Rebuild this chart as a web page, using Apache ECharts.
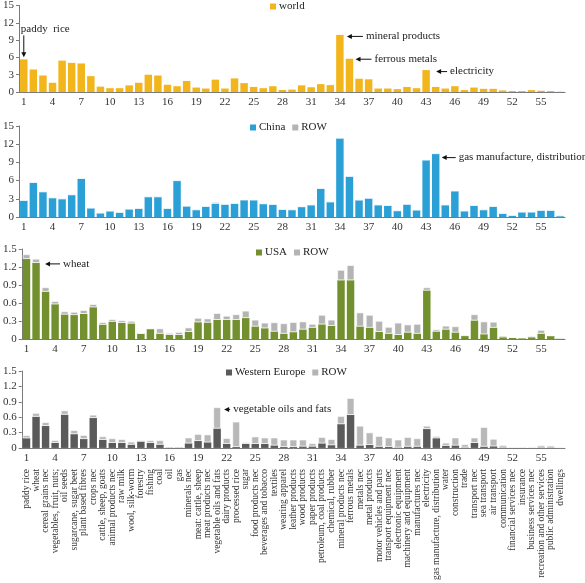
<!DOCTYPE html>
<html>
<head>
<meta charset="utf-8">
<script src="https://cdn.jsdelivr.net/npm/echarts@6/dist/echarts.min.js"></script>
<style>
	html, body { margin: 0; padding: 0; background: #fff; }
	#barCharts { width: 585px; height: 583px; }
</style>
</head>
<body>
<div id="barCharts"></div>
<script>
	// 57 sectors
	var sectorList = ['paddy rice', 'wheat', 'cereal grains nec', 'vegetables, fruit, nuts;', 'oil seeds',
		'sugarcane, sugar beet', 'plant based fibres', 'crops nec', 'cattle, sheep, goats', 'animal products nec',
		'raw milk', 'wool, silk-worm', 'forestry', 'fishing', 'coal', 'oil', 'gas', 'minerals nec',
		'meat: cattle, sheep', 'meat products nec', 'vegetable oils and fats', 'dairy products', 'processed rice',
		'sugar', 'food products nec', 'beverages and tobacco', 'textiles', 'wearing apparel', 'leather products',
		'wood products', 'paper products', 'petroleum, coal products', 'chemical, rubber', 'mineral products nec',
		'ferrous metals', 'metals nec', 'metal products', 'motor vehicles and parts', 'transport equipment nec',
		'electronic equipment', 'machinery and equipment', 'manufactures nec', 'electricity',
		'gas manufacture, distribution', 'water', 'construction', 'trade', 'transport nec', 'sea transport',
		'air transport', 'communication', 'financial services nec', 'insurance', 'business services nec',
		'recreation and other services', 'public administration', 'dwellings'];

	var worldList = [5.66, 3.9, 2.86, 1.6, 5.44, 5.05, 4.95, 2.75, 0.93, 0.66,
		0.66, 1.15, 1.6, 3.0, 2.86, 1.26, 1.0, 1.92, 0.77, 0.6,
		2.14, 0.6, 2.36, 1.54, 0.88, 0.66, 1.0, 0.35, 0.42, 1.15,
		0.82, 1.37, 1.2, 9.9, 5.77, 2.3, 2.2, 0.6, 0.6, 0.5,
		0.88, 0.66, 3.8, 0.88, 0.6, 1.0, 0.33, 0.77, 0.55, 0.55,
		0.27, 0.16, 0.16, 0.33, 0.22, 0.16, 0.05];

	var chinaList = [2.74, 5.7, 4.16, 3.17, 3.0, 3.67, 6.35, 1.48, 0.66, 0.99,
		0.77, 1.31, 1.42, 3.34, 3.34, 1.42, 6.0, 1.8, 1.2, 1.75,
		2.2, 2.08, 2.2, 2.8, 2.8, 2.19, 2.08, 1.25, 1.2, 1.7,
		2.0, 4.7, 2.5, 13.0, 6.7, 2.8, 3.1, 2.0, 1.9, 1.04,
		2.1, 1.15, 9.4, 10.45, 2.0, 4.3, 1.0, 1.9, 1.2, 1.75,
		0.6, 0.27, 0.82, 0.82, 1.1, 1.1, 0.2];
	var chinaRowList = [0, 0, 0, 0, 0, 0, 0, 0, 0, 0,
		0, 0, 0, 0, 0, 0, 0, 0, 0, 0,
		0.26, 0.05, 0.15, 0.05, 0.03, 0, 0, 0, 0, 0,
		0, 0, 0, 0, 0, 0, 0, 0, 0, 0,
		0, 0, 0, 0, 0, 0, 0, 0, 0, 0,
		0, 0, 0, 0, 0, 0, 0];

	var usaList = [1.335, 1.27, 0.79, 0.58, 0.41, 0.40, 0.42, 0.53, 0.24, 0.29,
		0.27, 0.26, 0.09, 0.165, 0.09, 0.07, 0.07, 0.12, 0.28, 0.275,
		0.32, 0.32, 0.32, 0.35, 0.21, 0.18, 0.126, 0.09, 0.115, 0.16,
		0.19, 0.245, 0.22, 0.98, 0.98, 0.21, 0.19, 0.12, 0.09, 0.07,
		0.11, 0.09, 0.81, 0.126, 0.16, 0.11, 0.05, 0.31, 0.08, 0.19,
		0.03, 0.02, 0.015, 0.03, 0.09, 0.05, 0.01];
	var usaRowList = [0.075, 0.065, 0.07, 0.05, 0.05, 0.05, 0.06, 0.05, 0.04, 0.04,
		0.04, 0.04, 0.01, 0.015, 0.085, 0.03, 0.045, 0.07, 0.07, 0.065,
		0.11, 0.065, 0.09, 0.12, 0.11, 0.09, 0.15, 0.17, 0.165, 0.13,
		0.06, 0.155, 0.10, 0.17, 0.25, 0.23, 0.21, 0.18, 0.11, 0.20,
		0.13, 0.16, 0.05, 0.034, 0.06, 0.10, 0.02, 0.10, 0.21, 0.095,
		0.025, 0.01, 0.01, 0.02, 0.06, 0.01, 0.005];

	var weList = [0.19, 0.61, 0.43, 0.10, 0.65, 0.27, 0.175, 0.585, 0.16, 0.10,
		0.10, 0.066, 0.126, 0.10, 0.066, 0.01, 0.01, 0.09, 0.137, 0.11,
		0.38, 0.08, 0.02, 0.08, 0.08, 0.08, 0.05, 0.02, 0.02, 0.03,
		0.03, 0.09, 0.055, 0.465, 0.645, 0.05, 0.06, 0.027, 0.022, 0.01,
		0.027, 0.027, 0.37, 0.19, 0.044, 0.05, 0.01, 0.10, 0.027, 0.033,
		0.01, 0.005, 0.005, 0.005, 0.01, 0.01, 0.005];
	var weRowList = [0.056, 0.07, 0.07, 0.05, 0.08, 0.075, 0.075, 0.06, 0.065, 0.086,
		0.07, 0.054, 0.022, 0.048, 0.082, 0.012, 0.012, 0.11, 0.133, 0.15,
		0.41, 0.11, 0.49, 0.03, 0.14, 0.12, 0.15, 0.14, 0.14, 0.13,
		0.06, 0.12, 0.115, 0.155, 0.325, 0.38, 0.24, 0.203, 0.178, 0.15,
		0.183, 0.159, 0.06, 0.04, 0.056, 0.15, 0.06, 0.10, 0.378, 0.142,
		0.045, 0.015, 0.015, 0.015, 0.04, 0.035, 0.005];

	var font = 'Liberation Serif';
	var axisColor = '#7a7a7a';
	var numberList = sectorList.map(function (s, i) { return String(i + 1); });

	var gridList = [
		{ left: 19, right: 20, top: 0, height: 92 },
		{ left: 19, right: 20, top: 126, height: 91 },
		{ left: 19, right: 20, top: 249, height: 90 },
		{ left: 19, right: 20, top: 371, height: 91 }
	];

	function numAxis(i) {
		return {
			type: 'category',
			gridIndex: i,
			data: numberList,
			axisLine: { lineStyle: { color: axisColor } },
			axisTick: { interval: 2, alignWithLabel: true, length: 3, lineStyle: { color: axisColor } },
			axisLabel: { interval: 2, margin: 5, fontFamily: font, fontSize: 11, color: '#333' }
		};
	}

	function valAxis(i, max, step) {
		return {
			type: 'value',
			gridIndex: i,
			min: 0,
			max: max,
			interval: step,
			axisLine: { show: true, lineStyle: { color: axisColor } },
			axisTick: { show: true, length: 3, lineStyle: { color: axisColor } },
			splitLine: { show: false },
			axisLabel: { margin: 5, fontFamily: font, fontSize: 11, color: '#333' }
		};
	}

	function bar(name, i, list, color, stack, border) {
		return {
			name: name,
			type: 'bar',
			xAxisIndex: i,
			yAxisIndex: i,
			stack: stack,
			data: list,
			barCategoryGap: '22%',
			itemStyle: { color: color, borderColor: '#fff', borderWidth: border ? 0.6 : 0 }
		};
	}

	function legendAt(left, top, items) {
		return {
			left: left,
			top: top,
			icon: 'rect',
			itemWidth: 6,
			itemHeight: 6,
			itemGap: 7,
			padding: 0,
			textStyle: { fontFamily: font, fontSize: 11, color: '#222', padding: [0, 0, 0, -2] },
			data: items
		};
	}

	var xAxes = [numAxis(0), numAxis(1), numAxis(2), numAxis(3)];
	// sector names under the last panel
	xAxes.push({
		type: 'category',
		gridIndex: 3,
		position: 'bottom',
		data: sectorList,
		axisLine: { show: false },
		axisTick: { show: false },
		axisLabel: { interval: 0, rotate: 90, margin: 21, fontFamily: font, fontSize: 9.5, color: '#333' }
	});

	var lineBar = echarts.init(document.getElementById('barCharts'));
	var option = {
		animation: false,
		grid: gridList,
		xAxis: xAxes,
		yAxis: [valAxis(0, 15, 3), valAxis(1, 15, 3), valAxis(2, 1.5, 0.3), valAxis(3, 1.5, 0.3)],
		legend: [
			legendAt(270, 1, [{ name: 'world', itemStyle: { color: '#f2b51b' } }]),
			legendAt(250, 122, [{ name: 'China', itemStyle: { color: '#2aa0d6' } }, { name: 'ROW', itemStyle: { color: '#b4b4b4', borderWidth: 0 } }]),
			legendAt(256, 247, [{ name: 'USA', itemStyle: { color: '#72902e' } }, { name: 'ROW', itemStyle: { color: '#b4b4b4', borderWidth: 0 } }]),
			legendAt(226, 367, [{ name: 'Western Europe', itemStyle: { color: '#5a5a5a' } }, { name: 'ROW', itemStyle: { color: '#b4b4b4', borderWidth: 0 } }])
		],
		series: [
			bar('world', 0, worldList, '#f2b51b'),
			bar('China', 1, chinaList, '#2aa0d6', 'cn'),
			bar('ROW', 1, chinaRowList, '#b4b4b4', 'cn', true),
			bar('USA', 2, usaList, '#72902e', 'us'),
			bar('ROW', 2, usaRowList, '#b4b4b4', 'us', true),
			bar('Western Europe', 3, weList, '#5a5a5a', 'we'),
			bar('ROW', 3, weRowList, '#b8b8b8', 'we', true)
		]
	};
	lineBar.setOption(option);

	// arrows with labels, placed from the bar they point at
	var notes = [
		{ p: 0, cat: 34, top: worldList[33], text: 'mineral products', dx: 7, dy: 1.5, len: 16 },
		{ p: 0, cat: 35, top: worldList[34], text: 'ferrous metals', dx: 6, dy: 0.5, len: 16 },
		{ p: 0, cat: 43, top: worldList[42], text: 'electricity', dx: 10, dy: 1.5, len: 11 },
		{ p: 1, cat: 44, top: chinaList[43] + chinaRowList[43], text: 'gas manufacture, distribution', dx: 6, dy: 4, len: 14 },
		{ p: 2, cat: 2, top: usaList[1] + usaRowList[1], text: 'wheat', dx: 9, dy: 5, len: 15 },
		{ p: 3, cat: 21, top: weList[20] + weRowList[20], text: 'vegetable oils and fats', dx: 7, dy: 2, len: 6 }
	];
	var graphics = [];
	notes.forEach(function (n) {
		var pt = lineBar.convertToPixel({ xAxisIndex: n.p, yAxisIndex: n.p }, [n.cat - 1, n.top]);
		var x = pt[0] + n.dx, y = pt[1] + n.dy;
		graphics.push({ type: 'line', shape: { x1: x + 4, y1: y, x2: x + n.len, y2: y }, style: { stroke: '#111', lineWidth: 1 } });
		graphics.push({ type: 'polygon', shape: { points: [[x, y], [x + 5, y - 2.5], [x + 5, y + 2.5]] }, style: { fill: '#111' } });
		graphics.push({ type: 'text', x: x + n.len + 3, y: y, style: { text: n.text, font: '11px ' + font, fill: '#222', align: 'left', verticalAlign: 'middle' } });
	});
	// paddy rice: vertical arrow above bar 1
	var pr = lineBar.convertToPixel({ xAxisIndex: 0, yAxisIndex: 0 }, [0, worldList[0]]);
	graphics.push({ type: 'line', shape: { x1: pr[0], y1: pr[1] - 24, x2: pr[0], y2: pr[1] - 6 }, style: { stroke: '#111', lineWidth: 1 } });
	graphics.push({ type: 'polygon', shape: { points: [[pr[0], pr[1] - 2], [pr[0] - 2.5, pr[1] - 7], [pr[0] + 2.5, pr[1] - 7]] }, style: { fill: '#111' } });
	graphics.push({ type: 'text', x: pr[0] - 3, y: pr[1] - 30, style: { text: 'paddy  rice', font: '11px ' + font, fill: '#222', align: 'left', verticalAlign: 'middle' } });

	lineBar.setOption({ graphic: graphics });
</script>
</body>
</html>
